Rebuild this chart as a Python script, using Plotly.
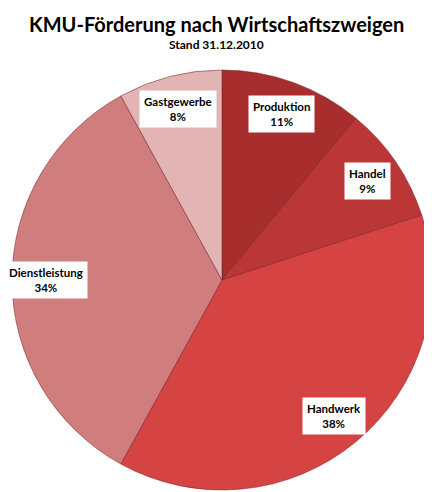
import math
import plotly.graph_objects as go

categories = ["Produktion", "Handel", "Handwerk", "Dienstleistung", "Gastgewerbe"]
values = [11, 9, 38, 34, 8]
colors = ["#a82e2e", "#bb3636", "#d64343", "#cf7d7d", "#e3b4b4"]

W, H = 432, 492
ml, mr, mt, mb = 4, 8, 62, 10

fig = go.Figure(go.Pie(
    labels=categories,
    values=values,
    sort=False,
    direction="clockwise",
    rotation=0,
    marker=dict(colors=colors, line=dict(color="rgba(110,25,25,0.5)", width=1)),
    textinfo="none",
    hoverinfo="label+percent",
    showlegend=False,
    domain=dict(x=[0, 1], y=[0, 1]),
))

# label boxes placed along each slice's mid-angle, derived from the data
pw, ph = W - ml - mr, H - mt - mb
r = min(pw, ph) / 2
total = sum(values)
cum = 0
for cat, v in zip(categories, values):
    mid = (cum + v / 2) / total * 2 * math.pi
    cum += v
    fig.add_annotation(
        x=0.5 + 0.84 * r * math.sin(mid) / pw,
        y=0.5 + 0.84 * r * math.cos(mid) / ph,
        xref="paper", yref="paper", xanchor="center", yanchor="middle",
        text=f"<b>{cat}<br>{round(v / total * 100)}%</b>",
        showarrow=False, bgcolor="white", borderpad=4,
        font=dict(family="Lato", size=11.5, color="black"),
        align="center",
    )

fig.add_annotation(
    x=0.488, y=1 + (mt - 16) / ph, xref="paper", yref="paper",
    xanchor="center", yanchor="middle",
    text="<b>KMU-Förderung nach Wirtschaftszweigen</b>",
    showarrow=False, font=dict(family="Lato", size=20, color="black"),
)
fig.add_annotation(
    x=0.488, y=1 + (mt - 36) / ph, xref="paper", yref="paper",
    xanchor="center", yanchor="middle",
    text="<b>Stand 31.12.2010</b>",
    showarrow=False, font=dict(family="Lato", size=12, color="black"),
)

fig.update_layout(
    width=W, height=H,
    margin=dict(l=ml, r=mr, t=mt, b=mb),
    paper_bgcolor="white", plot_bgcolor="white",
)

fig.write_html("out.html")
